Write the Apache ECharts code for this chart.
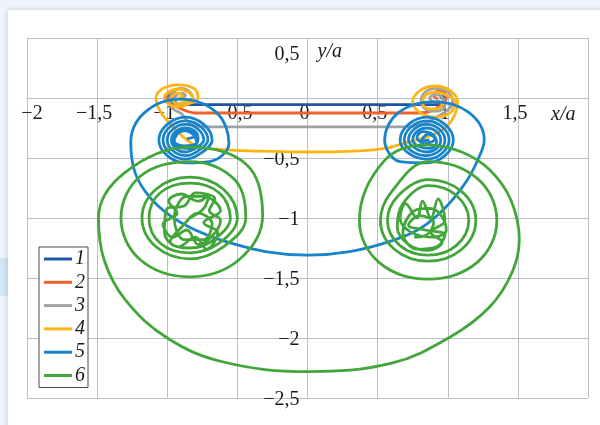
<!DOCTYPE html>
<html>
<head>
<meta charset="utf-8">
<script src="https://cdn.jsdelivr.net/npm/echarts@6/dist/echarts.min.js"></script>
<style>
  html, body { margin: 0; padding: 0; background: #eef4f9; }
  #chart { width: 600px; height: 425px; }
</style>
</head>
<body>
<div id="chart"></div>
<script>
// Axis ticks and their printed labels (decimal comma, true minus sign)
const xMin = -2, xMax = 2, xStep = 0.5;
const yMin = -2.5, yMax = 0.5, yStep = 0.5;
const xTickLabels = ['−2', '−1,5', '−1', '−0,5', '0', '0,5', '1', '1,5', ''];
const yTickLabels = ['−2,5', '−2', '−1,5', '−1', '−0,5', '', '0,5'];
const seriesNames = ['1', '2', '3', '4', '5', '6'];
const seriesColors = ['#1f56a3', '#f0622b', '#9ea2a7', '#fdb515', '#1984cc', '#42a63a'];

// Trajectories, x/a and y/a
const path1 = [
  [-0.97, 0.01], [-0.95, 0.03], [-0.99, 0.02], [-0.98, -0.02], [-0.93, -0.055],
  [0.93, -0.055], [0.98, -0.02], [0.98, 0.02], [0.95, 0.01], [0.97, -0.01]
];
const path2 = [
  [-0.96, 0.0], [-0.93, 0.03], [-0.97, 0.05], [-1.01, 0.01], [-0.98, -0.05],
  [-0.92, -0.08], [-0.86, -0.11], [-0.80, -0.125], [0.80, -0.125], [0.88, -0.11],
  [0.94, -0.07], [0.99, 0.0], [0.97, 0.05], [0.93, 0.06], [0.90, 0.02], [0.93, -0.01]
];
const path3 = [
  [-0.91, -0.01], [-0.87, 0.02], [-0.90, 0.04], [-0.95, 0.0], [-0.92, -0.05], [-0.86, -0.04],
  [-0.815, -0.02], [-0.84, 0.05], [-0.90, 0.08], [-0.96, 0.05], [-0.985, -0.02], [-0.96, -0.09],
  [-0.90, -0.13], [-0.85, -0.20], [-0.79, -0.235], [-0.70, -0.24], [0.73, -0.24], [0.82, -0.22],
  [0.92, -0.16], [1.01, -0.09], [1.035, -0.02], [1.0, 0.05], [0.92, 0.08], [0.84, 0.05],
  [0.81, -0.02], [0.84, -0.09], [0.92, -0.11], [0.98, -0.07], [0.97, -0.01], [0.92, 0.03],
  [0.87, 0.0], [0.90, -0.04]
];
const path4 = [
  [-0.93, -0.01], [-0.89, 0.02], [-0.93, 0.04], [-0.97, 0.0], [-0.93, -0.05], [-0.87, -0.03],
  [-0.82, 0.0], [-0.85, 0.05], [-0.92, 0.075], [-0.99, 0.05], [-1.02, 0.0], [-0.99, -0.05],
  [-0.92, -0.075], [-0.85, -0.05], [-0.78, 0.0], [-0.81, 0.08], [-0.92, 0.11], [-1.03, 0.08],
  [-1.08, 0.0], [-1.05, -0.11], [-0.96, -0.24], [-0.86, -0.35], [-0.77, -0.41], [-0.60, -0.43],
  [-0.41, -0.44], [0.0, -0.45], [0.37, -0.44], [0.55, -0.42], [0.71, -0.37], [0.86, -0.32],
  [0.98, -0.25], [1.05, -0.14], [1.07, -0.03], [1.02, 0.06], [0.91, 0.10], [0.80, 0.06],
  [0.75, -0.03], [0.80, -0.12], [0.91, -0.16], [1.02, -0.12], [1.05, -0.03], [0.98, 0.03],
  [0.91, 0.05], [0.84, 0.02], [0.82, -0.04], [0.86, -0.09], [0.93, -0.09], [0.96, -0.05],
  [0.93, -0.02]
];
const path5 = [
  [-0.86, -0.34], [-0.80, -0.31], [-0.84, -0.27], [-0.92, -0.29], [-0.95, -0.36], [-0.88, -0.40],
  [-0.79, -0.37], [-0.82, -0.30], [-0.90, -0.27], [-0.96, -0.32], [-0.92, -0.41], [-0.83, -0.42],
  [-0.78, -0.34], [-0.80, -0.28], [-0.87, -0.25], [-0.94, -0.28], [-0.97, -0.35],
  [-0.94, -0.42], [-0.87, -0.45], [-0.80, -0.42],
  [-0.74, -0.35], [-0.78, -0.26], [-0.87, -0.22], [-0.96, -0.26], [-1.00, -0.35],
  [-0.96, -0.44], [-0.87, -0.48], [-0.78, -0.44],
  [-0.71, -0.35], [-0.76, -0.24], [-0.87, -0.19], [-0.98, -0.24], [-1.03, -0.35],
  [-0.98, -0.46], [-0.87, -0.51], [-0.76, -0.46],
  [-0.68, -0.35], [-0.74, -0.22], [-0.87, -0.16], [-1.00, -0.22], [-1.06, -0.35],
  [-1.00, -0.48], [-0.87, -0.54], [-0.70, -0.53],
  [-0.56, -0.38], [-0.65, -0.12], [-0.91, -0.01], [-1.16, -0.12], [-1.26, -0.37],
  [-1.23, -0.62], [-1.13, -0.82], [-0.98, -0.98], [-0.80, -1.10], [-0.60, -1.19],
  [-0.30, -1.28], [0.0, -1.31], [0.30, -1.28], [0.60, -1.19], [0.80, -1.09],
  [0.97, -0.93], [1.13, -0.70], [1.22, -0.50], [1.26, -0.35],
  [1.15, -0.12], [0.90, -0.03], [0.65, -0.12], [0.55, -0.35], [0.66, -0.53],
  [0.85, -0.54], [0.98, -0.48], [1.04, -0.35], [0.98, -0.22], [0.85, -0.16], [0.72, -0.22], [0.66, -0.35],
  [0.72, -0.46], [0.85, -0.51], [0.96, -0.46], [1.01, -0.35], [0.96, -0.24], [0.85, -0.19], [0.74, -0.24], [0.69, -0.35],
  [0.74, -0.44], [0.85, -0.48], [0.94, -0.44], [0.98, -0.35], [0.94, -0.26], [0.85, -0.22], [0.76, -0.26], [0.72, -0.35],
  [0.77, -0.42], [0.85, -0.45], [0.92, -0.42], [0.95, -0.35], [0.92, -0.28], [0.85, -0.25], [0.78, -0.28], [0.75, -0.35],
  [0.79, -0.40], [0.87, -0.42], [0.92, -0.37], [0.89, -0.30], [0.82, -0.28], [0.78, -0.33],
  [0.84, -0.38], [0.91, -0.34], [0.86, -0.30], [0.81, -0.36], [0.87, -0.35]
];
const path6 = [
  [-0.84, -1.0], [-0.74, -0.92], [-0.70, -0.80], [-0.78, -0.86], [-0.90, -0.80], [-0.99, -0.86],
  [-0.93, -0.96], [-1.03, -1.05], [-0.96, -1.16], [-0.86, -1.10], [-0.78, -1.22], [-0.68, -1.15],
  [-0.62, -1.02], [-0.70, -0.94], [-0.66, -0.84], [-0.80, -0.79], [-0.88, -0.90], [-1.00, -0.92],
  [-1.02, -1.12], [-0.92, -1.24], [-0.80, -1.16], [-0.72, -1.26], [-0.64, -1.12], [-0.74, -1.04],
  [-0.62, -0.94], [-0.74, -0.82], [-0.86, -0.82], [-0.95, -1.0], [-0.88, -1.18], [-0.74, -1.18],
  [-0.68, -1.05], [-0.78, -0.96], [-0.90, -1.08], [-0.98, -1.20], [-0.84, -1.25], [-0.68, -1.19],
  [-0.55, -1.0], [-0.63, -0.79], [-0.84, -0.71], [-1.05, -0.79], [-1.13, -1.0],
  [-1.05, -1.21], [-0.84, -1.29], [-0.63, -1.21],
  [-0.50, -1.0], [-0.60, -0.76], [-0.84, -0.66], [-1.08, -0.76], [-1.18, -1.0],
  [-1.08, -1.24], [-0.84, -1.34], [-0.60, -1.24],
  [-0.44, -1.0], [-0.52, -0.68], [-0.84, -0.53], [-1.19, -0.65], [-1.33, -1.0],
  [-1.19, -1.35], [-0.84, -1.49], [-0.49, -1.35],
  [-0.32, -0.98], [-0.43, -0.56], [-0.84, -0.41], [-1.30, -0.62], [-1.49, -1.0],
  [-1.45, -1.35], [-1.30, -1.68], [-1.00, -2.0], [-0.60, -2.20], [0.0, -2.28],
  [0.60, -2.21], [1.02, -1.99], [1.30, -1.74], [1.46, -1.45], [1.51, -1.18],
  [1.45, -0.85], [1.30, -0.60], [1.10, -0.45], [0.85, -0.39], [0.55, -0.52],
  [0.37, -1.02], [0.51, -1.37], [0.86, -1.51], [1.21, -1.37], [1.35, -1.02],
  [1.21, -0.67], [0.86, -0.53], [0.60, -0.78],
  [0.52, -1.02], [0.62, -1.26], [0.86, -1.36], [1.10, -1.26], [1.20, -1.02],
  [1.10, -0.78], [0.86, -0.68], [0.65, -0.81],
  [0.57, -1.02], [0.66, -1.23], [0.86, -1.31], [1.06, -1.23], [1.15, -1.02],
  [1.06, -0.81], [0.86, -0.73], [0.68, -0.88],
  [0.64, -1.08], [0.72, -1.22], [0.86, -1.27], [0.96, -1.20], [0.88, -1.12], [0.98, -1.02],
  [0.93, -0.84], [0.88, -1.00], [0.82, -0.86], [0.78, -1.00], [0.70, -0.88], [0.66, -1.00],
  [0.74, -1.12], [0.90, -1.16], [0.99, -1.10], [0.94, -0.96], [0.86, -0.92], [0.76, -0.94],
  [0.68, -1.12], [0.78, -1.26], [0.92, -1.24], [0.98, -1.14], [0.84, -1.10], [0.72, -1.06],
  [0.80, -0.98], [0.90, -1.04], [0.85, -1.14], [0.76, -1.16]
];
const paths = [path1, path2, path3, path4, path5, path6];

const serif = 'Liberation Serif';

// Plot area in the 600x425 frame
const plotLeft = 27, plotRight = 12, plotTop = 38, plotBottom = 27;
const plotW = 600 - plotLeft - plotRight, plotH = 425 - plotTop - plotBottom;
// Both axes cross at the origin: shift them from the frame edges to the zero lines
const xAxisShift = -plotH * (0 - yMin) / (yMax - yMin);
const yAxisShift = -plotW * (0 - xMin) / (xMax - xMin);

function xLabel(v) {
  const i = Math.round((v - xMin) / xStep);
  return i === 0 ? '{first|' + xTickLabels[i] + '}' : xTickLabels[i];
}
function yLabel(v) {
  const i = Math.round((v - yMin) / yStep);
  return v >= yMax - 1e-9 ? '{top|' + yTickLabels[i] + '}' : yTickLabels[i];
}

const chart = echarts.init(document.getElementById('chart'), null, { renderer: 'canvas' });

chart.setOption({
  animation: false,
  backgroundColor: '#eef4f9',
  graphic: [
    { type: 'rect', left: 0, top: 258, shape: { width: 8, height: 38 }, style: { fill: '#d3e6f4' }, z: -10 },
    {
      type: 'rect', left: 8, top: 10, shape: { width: 600, height: 430 },
      style: { fill: '#ffffff', shadowBlur: 6, shadowColor: 'rgba(0,0,0,0.18)' }, z: -9
    }
  ],
  grid: {
    left: plotLeft, right: plotRight, top: plotTop, bottom: plotBottom,
    containLabel: false, outerBoundsMode: 'none'
  },
  legend: {
    orient: 'vertical', left: 39, top: 247,
    padding: [2, 3, 2, 5], itemGap: 3.3, itemWidth: 28, itemHeight: 3,
    icon: 'rect',
    backgroundColor: '#ffffff', borderColor: '#4a4a4a', borderWidth: 1,
    textStyle: { fontFamily: serif, fontStyle: 'italic', fontSize: 20, lineHeight: 20, color: '#1a1a1a', padding: [0, 0, 0, -2] },
    data: seriesNames
  },
  xAxis: {
    type: 'value', min: xMin, max: xMax, interval: xStep,
    position: 'bottom', offset: xAxisShift,
    name: 'x/a', nameLocation: 'end', nameGap: -37,
    nameTextStyle: { fontFamily: serif, fontStyle: 'italic', fontSize: 20, color: '#1a1a1a', align: 'left', verticalAlign: 'top', padding: [7, 0, 0, 0] },
    axisLine: { onZero: false, lineStyle: { color: '#b8bfc7', width: 1 } },
    axisTick: { show: false },
    splitLine: { show: true, lineStyle: { color: '#b8bfc7', width: 1 } },
    axisLabel: {
      margin: 6, fontFamily: serif, fontSize: 20, color: '#1a1a1a', padding: [0, 6, 0, 0],
      formatter: xLabel, rich: { first: { fontFamily: serif, fontSize: 20, color: '#1a1a1a', padding: [0, 0, 0, 16] } }
    }
  },
  yAxis: {
    type: 'value', min: yMin, max: yMax, interval: yStep,
    position: 'left', offset: yAxisShift,
    name: 'y/a', nameLocation: 'end', nameGap: -24,
    nameTextStyle: { fontFamily: serif, fontStyle: 'italic', fontSize: 20, color: '#1a1a1a', align: 'left', verticalAlign: 'bottom', padding: [0, 0, 0, 10] },
    axisLine: { onZero: false, lineStyle: { color: '#b8bfc7', width: 1 } },
    axisTick: { show: false },
    splitLine: { show: true, lineStyle: { color: '#b8bfc7', width: 1 } },
    axisLabel: {
      margin: 8, fontFamily: serif, fontSize: 20, color: '#1a1a1a', padding: [4, 0, 0, 0],
      formatter: yLabel, rich: { top: { fontFamily: serif, fontSize: 20, color: '#1a1a1a', padding: [30, 0, 0, 0] } }
    }
  },
  series: paths.map((p, i) => ({
    name: seriesNames[i],
    type: 'line',
    data: p,
    smooth: 0.38,
    symbol: 'none',
    clip: true,
    color: seriesColors[i],
    lineStyle: { color: seriesColors[i], width: 2.8 },
    z: 2 + i
  }))
});
</script>
</body>
</html>
